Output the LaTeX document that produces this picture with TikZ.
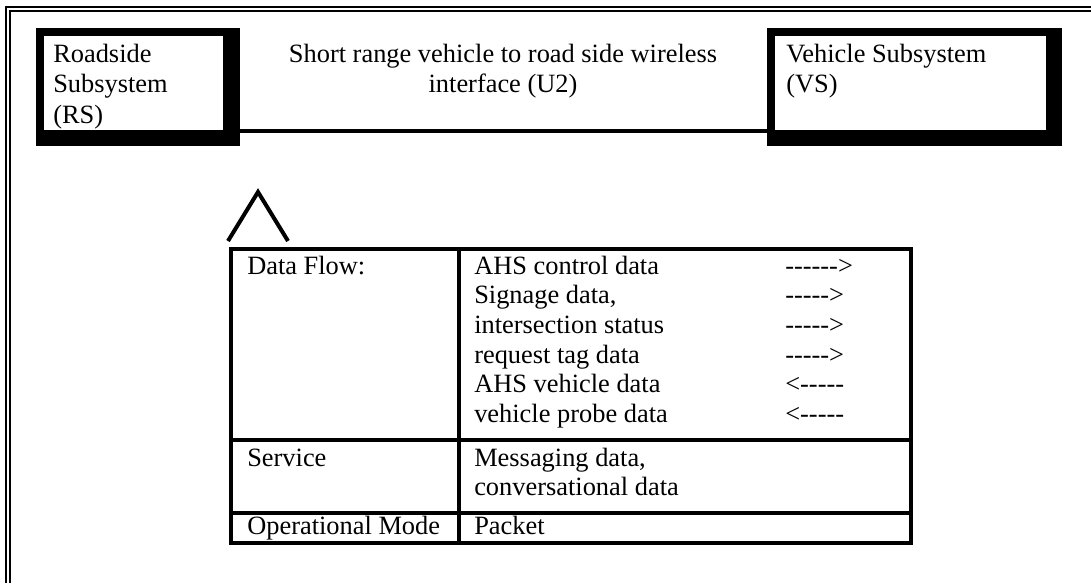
\documentclass[tikz,border=0pt]{standalone}
\usepackage{fontspec}
\setmainfont{Liberation Serif}
\usetikzlibrary{calc}

\begin{document}
\begin{tikzpicture}[x=0.75pt,y=-0.75pt]
\tikzstyle{txt} = [anchor=base west, inner sep=0pt, font=\fontsize{19.8}{23}\selectfont]
\tikzstyle{sysbox} = [rectangle, fill=black, minimum height=88.5pt, inner sep=0pt, outer sep=0pt]
\tikzstyle{frame} = [line width=1.5pt]
\tikzstyle{link} = [line width=3pt]
\tikzstyle{tbl} = [line width=3pt]

\useasboundingbox (0,0) rectangle (1091,583);

% outer frame
\draw [frame] (6,583) -- (6,6.5) -- (1091,6.5);
\draw [frame] (10,583) -- (10,10.5) -- (1091,10.5);

% subsystems
\node (rs) [sysbox, minimum width=153pt] at (138,87) {};
\node (vs) [sysbox, minimum width=221.25pt] at (914.5,87) {};
\fill [white] ($(rs.north west)+(8,8)$) rectangle ($(rs.south east)+(-17,-16)$);
\fill [white] ($(vs.north west)+(8,8)$) rectangle ($(vs.south east)+(-16,-16)$);
\draw [link] ($(rs.south east)+(0,-15)$) -- ($(vs.south west)+(0,-15)$);

\node (rs1) [txt] at (53,62) {Roadside};
\node (rs2) [txt] at (53,92.5) {Subsystem};
\node (rs3) [txt] at (53,123) {(RS)};
\node (vs1) [txt] at (786,62) {Vehicle Subsystem};
\node (vs2) [txt] at (786,92.5) {(VS)};
\node (u2a) [txt, anchor=base] at (503,62) {Short range vehicle to road side wireless};
\node (u2b) [txt, anchor=base] at (503,92.5) {interface (U2)};

% caret
\draw [line width=3pt] (228,241) -- (258,192) -- (288,241);

% table
\draw [tbl] (231,249) rectangle (911,543);
\draw [tbl] (458.5,249) -- (458.5,543);
\draw [tbl] (231,440) -- (911,440);
\draw [tbl] (231,512.5) -- (911,512.5);

\node (flow) [txt] at (247,274) {Data Flow:};
\node (d1) [txt] at (474,274) {AHS control data};
\node (d2) [txt] at (474,303.7) {Signage data,};
\node (d3) [txt] at (474,333.4) {intersection status};
\node (d4) [txt] at (474,363) {request tag data};
\node (d5) [txt] at (474,392.8) {AHS vehicle data};
\node (d6) [txt] at (474,422.5) {vehicle probe data};
\node (a1) [txt] at (785,274) {-{}-{}-{}-{}-{}->};
\node (a2) [txt] at (785,303.7) {-{}-{}-{}-{}->};
\node (a3) [txt] at (785,333.4) {-{}-{}-{}-{}->};
\node (a4) [txt] at (785,363) {-{}-{}-{}-{}->};
\node (a5) [txt] at (785,392.8) {<-{}-{}-{}-{}-};
\node (a6) [txt] at (785,422.5) {<-{}-{}-{}-{}-};

\node (serv) [txt] at (247,466) {Service};
\node (s1) [txt] at (474,466) {Messaging data,};
\node (s2) [txt] at (474,495.5) {conversational data};

\node (mode) [txt] at (247,534) {Operational Mode};
\node (m1) [txt] at (474,534) {Packet};
\end{tikzpicture}
\end{document}
